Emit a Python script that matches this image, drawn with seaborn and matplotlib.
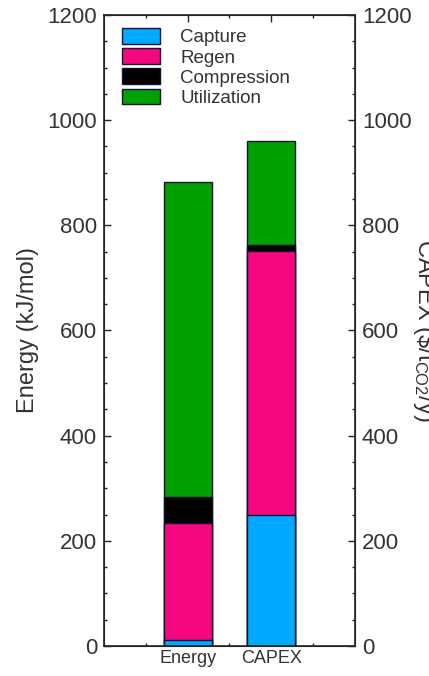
import pandas as pd
import seaborn as sns
import matplotlib.pyplot as plt
from matplotlib.patches import Patch
from matplotlib.ticker import MultipleLocator, FixedLocator

# values (stacked contributions)
groups = ['Energy', 'CAPEX']
capture = [12, 250]
regen = [221, 502]
compression = [50, 10]
utilization = [600, 198]

components = ['Capture', 'Regen', 'Compression', 'Utilization']
colors = ['#00aaff', '#f5077f', '#000000', '#00a000']

df = pd.DataFrame({'group': groups, 'Capture': capture, 'Regen': regen,
                   'Compression': compression, 'Utilization': utilization})
# cumulative tops, so each layer can be drawn from the top down
cum = df[components].cumsum(axis=1)
cum['group'] = df['group']

sns.set_style('ticks')
plt.rcParams['font.family'] = ['Liberation Sans', 'DejaVu Sans']
plt.rcParams['mathtext.fontset'] = 'custom'
plt.rcParams['mathtext.rm'] = 'Liberation Sans'
plt.rcParams['mathtext.it'] = 'Liberation Sans'
txt = '#333333'

fig = plt.figure(figsize=(4.29, 6.76), dpi=100)
ax = fig.add_axes([0.2424, 0.0444, 0.5851, 0.9334])

for comp, col in zip(components[::-1], colors[::-1]):
    sns.barplot(data=cum, x='group', y=comp, order=groups, color=col,
                width=0.57, edgecolor='#111133', linewidth=1.0,
                saturation=1, ax=ax)

ax.set_xlim(-1, 2)
ax.set_ylim(0, 1200)
ax.xaxis.set_major_locator(FixedLocator([0, 1]))
ax.set_xticklabels(groups)
ax.xaxis.set_minor_locator(FixedLocator([-0.5, 0.5, 1.5]))
ax.yaxis.set_major_locator(MultipleLocator(200))
ax.yaxis.set_minor_locator(MultipleLocator(50))
ax.tick_params(axis='both', which='both', direction='in', top=True,
               right=False, color='#222222', width=1.0)
ax.tick_params(which='major', length=5)
ax.tick_params(which='minor', length=2.5)
ax.tick_params(axis='y', labelsize=16, labelcolor=txt, pad=5)
ax.tick_params(axis='x', labelsize=13, labelcolor=txt, pad=3)
ax.set_xlabel('')
ax.set_ylabel('Energy (kJ/mol)', fontsize=17, color=txt, labelpad=6)
for s in ax.spines.values():
    s.set_visible(True)
    s.set_linewidth(1.2)
    s.set_color('#222222')

ax2 = ax.twinx()
ax2.set_ylim(0, 1200)
ax2.yaxis.set_major_locator(MultipleLocator(200))
ax2.yaxis.set_minor_locator(MultipleLocator(50))
ax2.tick_params(axis='y', which='both', direction='in', color='#222222',
                width=1.0, labelsize=16, labelcolor=txt, pad=5)
ax2.tick_params(which='major', length=5)
ax2.tick_params(which='minor', length=2.5)
ax2.set_ylabel(r'CAPEX (\$/t$_{\mathrm{CO2}}$/y)', fontsize=17, color=txt,
               rotation=270, labelpad=18)

handles = [Patch(facecolor=c, edgecolor='#111133', linewidth=1.0, label=n)
           for n, c in zip(components, colors)]
ax.legend(handles=handles, loc='upper left', frameon=False, fontsize=13.5,
          handlelength=2.0, handleheight=0.9, handletextpad=1.1,
          labelspacing=0.1, borderaxespad=0.3,
          bbox_to_anchor=(0.02, 1.0), labelcolor=txt)

fig.savefig('out.png', dpi=100)
